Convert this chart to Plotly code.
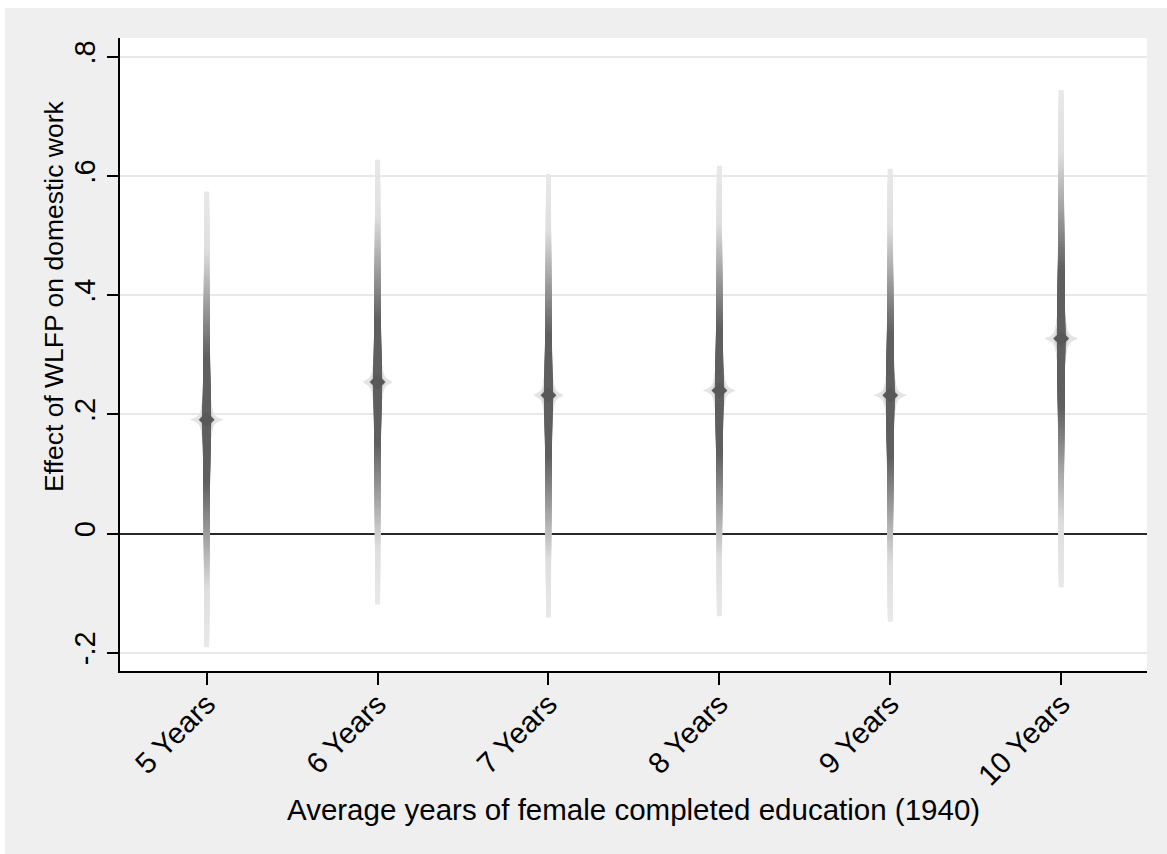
import numpy as np
import plotly.graph_objects as go

# Coefficient estimates and outer confidence bounds by average education level
categories = ["5 Years", "6 Years", "7 Years", "8 Years", "9 Years", "10 Years"]
estimates = [0.191, 0.254, 0.232, 0.240, 0.232, 0.327]
ci_upper = [0.574, 0.627, 0.603, 0.617, 0.612, 0.744]
ci_lower = [-0.191, -0.119, -0.141, -0.139, -0.148, -0.090]

y_tickvals = [-0.2, 0, 0.2, 0.4, 0.6, 0.8]
y_ticktext = ["-.2", "0", ".2", ".4", ".6", ".8"]

FONT = "Liberation Sans, Arial, Helvetica, sans-serif"
xpos = list(range(len(categories)))

# plot-area geometry in pixels (used to place titles and edge strips)
PLOT_L, PLOT_T, PLOT_W, PLOT_H = 120, 38, 1027, 633


def grey(v):
    v = int(round(v))
    return f"rgb({v},{v},{v})"


def band_colour(f):
    # light at the outer ends, fading to dark toward the centre
    if f >= 0.75:
        return grey(222 + (f - 0.75) / 0.25 * 10)
    if f <= 0.28:
        return grey(95)
    t = (0.75 - f) / 0.47
    return grey(222 - t * 127)


def band_width(f):
    return 5 + 3.5 * (1 - f) ** 2


def segments(frac):
    xs, ys = [], []
    for i, est, lo, hi in zip(xpos, estimates, ci_lower, ci_upper):
        xs += [i, i, None]
        ys += [est - frac * (est - lo), est + frac * (hi - est), None]
    return xs, ys


def add_band(f, colour, width):
    xs, ys = segments(f)
    fig.add_trace(go.Scatter(x=xs, y=ys, mode="lines", hoverinfo="skip",
                             line=dict(color=colour, width=width),
                             showlegend=False))


fig = go.Figure()

# star-shaped halo around each point estimate
for f in np.linspace(0.10, 0.001, 40):
    add_band(f, "rgb(228,228,228)",
             8 + 6 * (1 - f / 0.1) + 24 * np.exp(-f / 0.012))
for f in np.linspace(0.06, 0.001, 20):
    add_band(f, "rgb(200,200,200)",
             8 + 3 * (1 - f / 0.06) + 8 * np.exp(-f / 0.01))

# smoothed confidence spikes, outermost level first
for f in np.linspace(1.0, 0.02, 80):
    add_band(f, band_colour(f), band_width(f))

fig.add_trace(go.Scatter(x=xpos, y=estimates, mode="markers", showlegend=False,
                         marker=dict(symbol="diamond", size=12,
                                     color="rgb(88,88,88)", line=dict(width=0))))

# thin white strips along the top and left edges of the graph region
fig.add_shape(type="rect", xref="paper", yref="paper", layer="below",
              x0=-0.2, x1=(5 - PLOT_L) / PLOT_W, y0=-0.4, y1=1.2,
              fillcolor="white", line=dict(width=0))
fig.add_shape(type="rect", xref="paper", yref="paper", layer="below",
              x0=-0.2, x1=1.1, y0=1 + (PLOT_T - 8) / PLOT_H, y1=1.2,
              fillcolor="white", line=dict(width=0))

# axis titles
fig.add_annotation(text="Average years of female completed education (1940)",
                   xref="paper", yref="paper", x=0.5,
                   y=(PLOT_T + PLOT_H - 809) / PLOT_H,
                   xanchor="center", yanchor="middle", showarrow=False,
                   font=dict(size=29.5, family=FONT, color="black"))
fig.add_annotation(text="Effect of WLFP on domestic work",
                   xref="paper", yref="paper", textangle=-90,
                   x=(54 - PLOT_L) / PLOT_W, y=(PLOT_T + PLOT_H - 296) / PLOT_H,
                   xanchor="center", yanchor="middle", showarrow=False,
                   font=dict(size=26.5, family=FONT, color="black"))

fig.update_layout(
    width=1167, height=854,
    margin=dict(l=PLOT_L, r=1167 - PLOT_L - PLOT_W, t=PLOT_T,
                b=854 - PLOT_T - PLOT_H),
    paper_bgcolor="rgb(239,239,239)",
    plot_bgcolor="white",
    font=dict(family=FONT, color="black", size=29),
    xaxis=dict(
        range=[-0.507, 5.502], tickmode="array", tickvals=xpos, ticktext=categories,
        tickangle=-45, ticks="outside", ticklen=12, tickwidth=2, tickcolor="black",
        ticklabelstandoff=-10,
        showgrid=False, zeroline=False, showline=True, linecolor="black", linewidth=2,
        tickfont=dict(size=29.5),
    ),
    yaxis=dict(
        range=[-0.2307, 0.8314], tickmode="array", tickvals=y_tickvals,
        ticktext=y_ticktext, tickangle=-90, ticks="outside", ticklen=11,
        tickwidth=2, tickcolor="black", ticklabelstandoff=0,
        showgrid=True, gridcolor="rgb(232,232,232)", gridwidth=2,
        zeroline=True, zerolinecolor="rgb(40,40,40)", zerolinewidth=2,
        showline=True, linecolor="black", linewidth=2,
        tickfont=dict(size=29),
    ),
)

fig.write_html("out.html")
